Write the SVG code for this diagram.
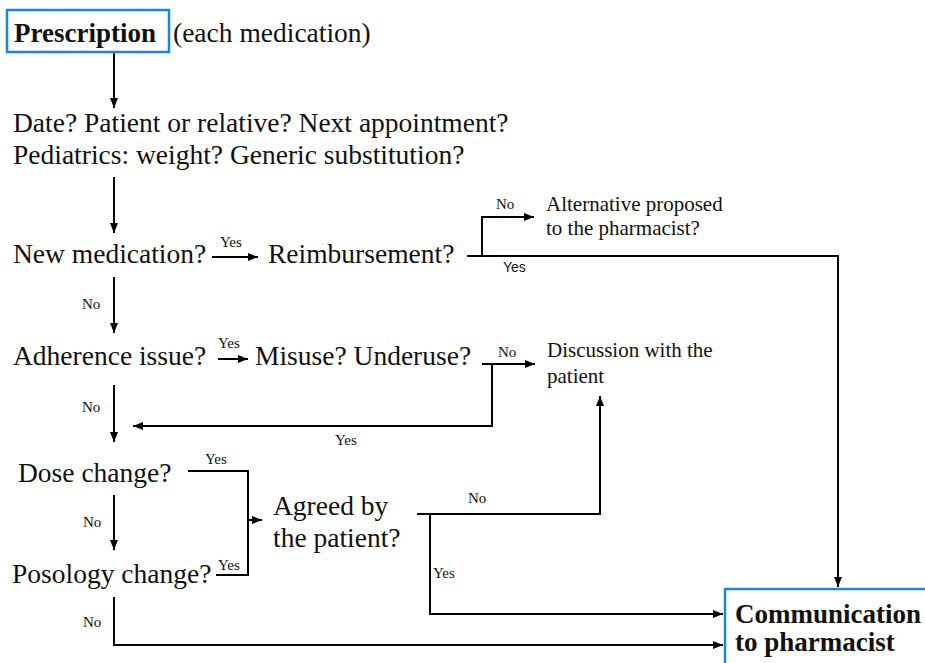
<svg xmlns="http://www.w3.org/2000/svg" width="925" height="663" viewBox="0 0 925 663">
<defs>
<marker id="ah" markerUnits="userSpaceOnUse" markerWidth="10" markerHeight="10" viewBox="0 0 10 10" refX="10" refY="5" orient="auto">
<path d="M0,1 L10,5 L0,9 Z" fill="#000"/>
</marker>
<style>
.m{font-size:27.5px}
.b{font-size:27px;font-weight:bold}
.s{font-size:21px}
.l{font-size:15px}
.ls{font-size:14px}
.box{fill:none;stroke:#1a86d8;stroke-width:2.5}
.c{fill:none;stroke:#000;stroke-width:2}
.a{marker-end:url(#ah)}
</style>
</defs>
<rect width="925" height="663" fill="#fff"/>
<g font-family="'Liberation Serif', 'Times New Roman', serif" fill="#111">
<g id="connectors">
<path class="c a" d="M114,53 V108"/>
<path class="c a" d="M114,177 V233"/>
<path class="c a" d="M212,257 H258"/>
<path class="c a" d="M114,277 V333"/>
<path class="c a" d="M467,256 H838 V587"/>
<path class="c a" d="M482,256 V217 H534"/>
<path class="c a" d="M218,359 H248"/>
<path class="c a" d="M114,385 V442"/>
<path class="c a" d="M482,364 H535"/>
<path class="c a" d="M492,364 V426 H133"/>
<path class="c" d="M188,471 H248 V575 H216"/>
<path class="c a" d="M248,520 H262"/>
<path class="c a" d="M114,495 V550"/>
<path class="c a" d="M114,597 V645 H723"/>
<path class="c a" d="M417,514 H600 V396"/>
<path class="c a" d="M430,514 V614 H723"/>
<text class="l" x="220" y="247">Yes</text>
<text class="l" x="82" y="309">No</text>
<text class="l" x="496" y="209">No</text>
<text class="ls" x="503" y="272" font-family="'Liberation Sans', Arial, sans-serif">Yes</text>
<text class="l" x="218" y="348">Yes</text>
<text class="l" x="82" y="412">No</text>
<text class="l" x="498" y="357">No</text>
<text class="l" x="335" y="445">Yes</text>
<text class="l" x="205" y="464">Yes</text>
<text class="l" x="218" y="570">Yes</text>
<text class="l" x="83" y="527">No</text>
<text class="l" x="83" y="627">No</text>
<text class="l" x="468" y="503">No</text>
<text class="l" x="433" y="578">Yes</text>
</g>
<g id="prescription">
<rect class="box" x="7" y="10" width="162" height="42"/>
<text class="b" x="14" y="42">Prescription</text>
<text class="m" x="173" y="42">(each medication)</text>
</g>
<g id="checks">
<text class="m" x="13" y="132">Date? Patient or relative? Next appointment?</text>
<text class="m" x="13" y="164">Pediatrics: weight? Generic substitution?</text>
</g>
<g id="new-medication"><text class="m" x="13" y="263">New medication?</text></g>
<g id="reimbursement"><text class="m" x="268" y="263">Reimbursement?</text></g>
<g id="alternative">
<text class="s" x="546" y="211">Alternative proposed</text>
<text class="s" x="546" y="235">to the pharmacist?</text>
</g>
<g id="adherence"><text class="m" x="13" y="365">Adherence issue?</text></g>
<g id="misuse"><text class="m" x="255" y="365">Misuse? Underuse?</text></g>
<g id="discussion">
<text class="s" x="547" y="357">Discussion with the</text>
<text class="s" x="547" y="383">patient</text>
</g>
<g id="dose"><text class="m" x="18" y="482">Dose change?</text></g>
<g id="agreed">
<text class="m" x="273" y="515">Agreed by</text>
<text class="m" x="273" y="547">the patient?</text>
</g>
<g id="posology"><text class="m" x="12" y="583">Posology change?</text></g>
<g id="communication">
<rect class="box" x="725" y="589" width="215" height="85"/>
<text class="b" x="735" y="623">Communication</text>
<text class="b" x="735" y="651">to pharmacist</text>
</g>
</g>
</svg>
